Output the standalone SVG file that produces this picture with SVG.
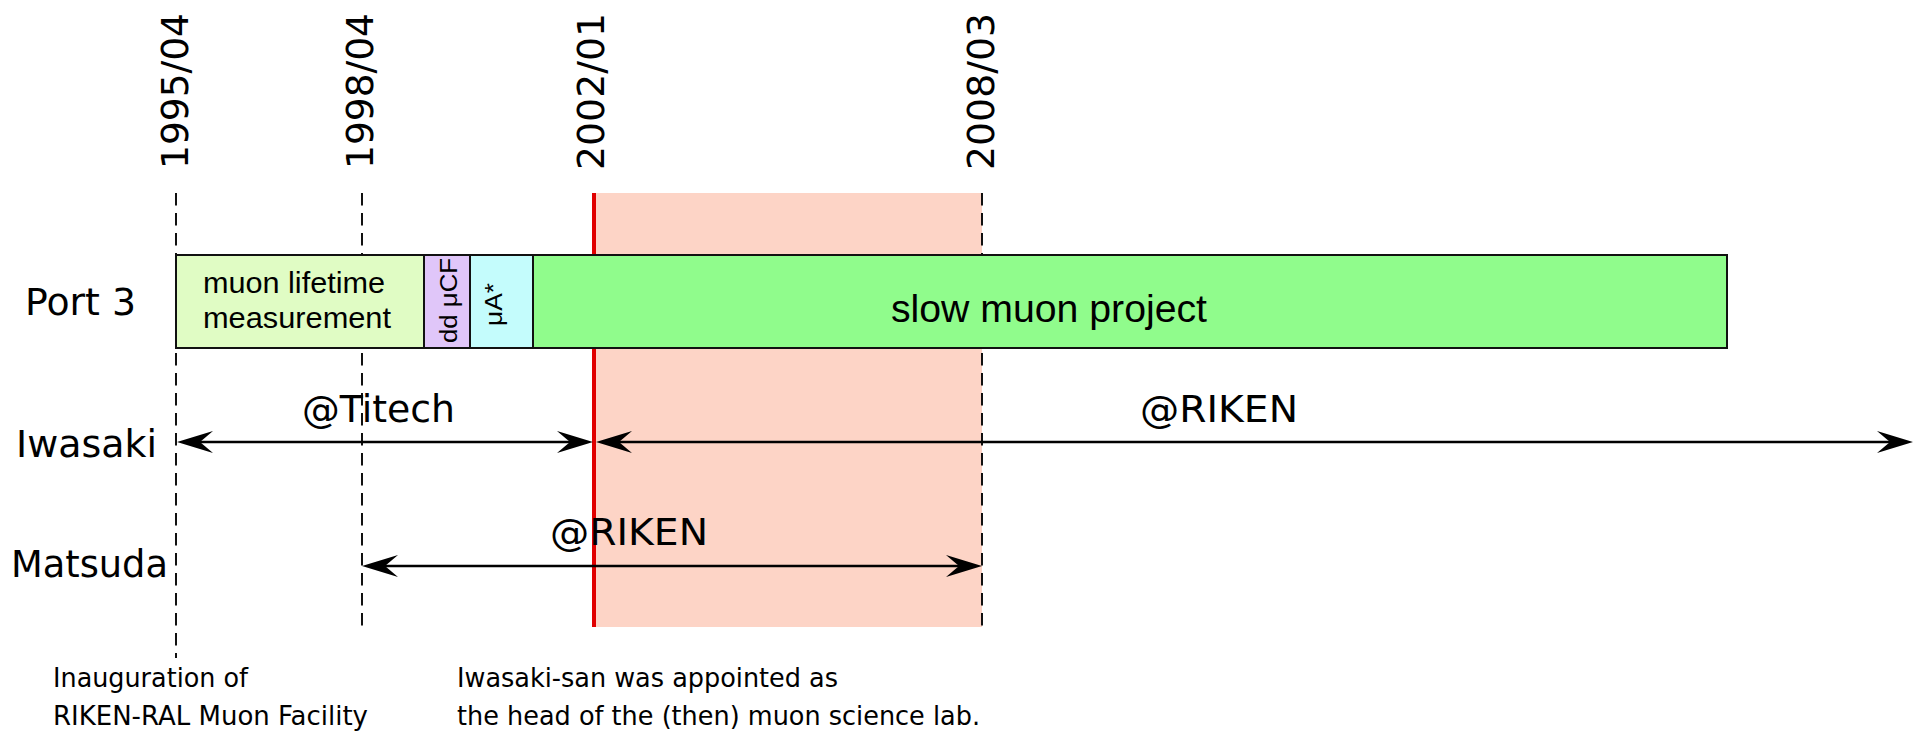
<svg xmlns="http://www.w3.org/2000/svg" width="1921" height="732" viewBox="0 0 1921 732">
  <style>
    .lbl { font-family: "DejaVu Sans", Verdana, sans-serif; fill: #000; }
    .big { font-size: 37px; }
    .date { font-size: 38px; }
    .note { font-size: 27px; }
    .box { stroke: #111; stroke-width: 2; }
    .boxtxt { font-family: "Liberation Sans", Arial, sans-serif; fill: #000; }
    .dash { stroke: #111; stroke-width: 2; stroke-dasharray: 12.5 7.5; fill: none; }
    .arrow { stroke: #000; stroke-width: 2.5; fill: none; marker-start: url(#head); marker-end: url(#head); }
  </style>
  <defs>
    <marker id="head" viewBox="0 0 36 22" refX="13" refY="11" markerWidth="36" markerHeight="22" markerUnits="userSpaceOnUse" orient="auto-start-reverse">
      <path d="M0,0 L36,11 L0,22 L13,11 Z" fill="#000"/>
    </marker>
  </defs>
  <rect width="1921" height="732" fill="#fff"/>

  <!-- highlighted period -->
  <g id="period">
    <rect x="594" y="193" width="388" height="434" fill="#fdd4c6"/>
    <line x1="594" y1="193" x2="594" y2="627" stroke="#e00000" stroke-width="4"/>
  </g>

  <!-- date guide lines -->
  <g id="guides">
    <line class="dash" x1="176" y1="193" x2="176" y2="658"/>
    <line class="dash" x1="362" y1="193" x2="362" y2="627"/>
    <line class="dash" x1="982" y1="193" x2="982" y2="627"/>
  </g>

  <g id="date-1995">
    <text class="lbl date" transform="translate(188,169) rotate(-90)" textLength="156" lengthAdjust="spacingAndGlyphs">1995/04</text>
  </g>
  <g id="date-1998">
    <text class="lbl date" transform="translate(373,169) rotate(-90)" textLength="156" lengthAdjust="spacingAndGlyphs">1998/04</text>
  </g>
  <g id="date-2002">
    <text class="lbl date" transform="translate(604,170) rotate(-90)" textLength="157" lengthAdjust="spacingAndGlyphs">2002/01</text>
  </g>
  <g id="date-2008">
    <text class="lbl date" transform="translate(994,170) rotate(-90)" textLength="157" lengthAdjust="spacingAndGlyphs">2008/03</text>
  </g>

  <!-- row labels -->
  <g id="row-port3">
    <text class="lbl big" x="25" y="315" textLength="111" lengthAdjust="spacingAndGlyphs">Port 3</text>
  </g>
  <g id="row-iwasaki">
    <text class="lbl big" x="16" y="457" textLength="141" lengthAdjust="spacingAndGlyphs">Iwasaki</text>
  </g>
  <g id="row-matsuda">
    <text class="lbl big" x="11" y="577" textLength="157" lengthAdjust="spacingAndGlyphs">Matsuda</text>
  </g>

  <!-- Port 3 projects -->
  <g id="box-lifetime">
    <rect class="box" x="176" y="255" width="248" height="93" fill="#e0fcc4"/>
    <text class="boxtxt" font-size="29" x="203" y="293" textLength="182" lengthAdjust="spacingAndGlyphs">muon lifetime</text>
    <text class="boxtxt" font-size="29" x="203" y="328" textLength="188" lengthAdjust="spacingAndGlyphs">measurement</text>
  </g>
  <g id="box-ddmucf">
    <rect class="box" x="424" y="255" width="46" height="93" fill="#e0c6f9"/>
    <text class="boxtxt" font-size="23" transform="translate(457,343) rotate(-90)" textLength="85" lengthAdjust="spacingAndGlyphs">dd μCF</text>
  </g>
  <g id="box-muA">
    <rect class="box" x="470" y="255" width="63" height="93" fill="#c4fcfc"/>
    <text class="boxtxt" font-size="24" transform="translate(502,326) rotate(-90)" textLength="43" lengthAdjust="spacingAndGlyphs">μA*</text>
  </g>
  <g id="box-slowmuon">
    <rect class="box" x="533" y="255" width="1194" height="93" fill="#90fc8c"/>
    <text class="boxtxt" font-size="38" x="891" y="322" textLength="316" lengthAdjust="spacingAndGlyphs">slow muon project</text>
  </g>

  <!-- connectors -->
  <g id="connectors">
    <line class="arrow" x1="200" y1="442" x2="570" y2="442"/>
    <line class="arrow" x1="619" y1="442" x2="1890" y2="442"/>
    <line class="arrow" x1="385" y1="566" x2="959" y2="566"/>
  </g>

  <g id="label-titech">
    <text class="lbl big" x="302" y="422" textLength="153" lengthAdjust="spacingAndGlyphs">@Titech</text>
  </g>
  <g id="label-riken-iwasaki">
    <text class="lbl big" x="1140" y="422" textLength="158" lengthAdjust="spacingAndGlyphs">@RIKEN</text>
  </g>
  <g id="label-riken-matsuda">
    <text class="lbl big" x="550" y="545" textLength="158" lengthAdjust="spacingAndGlyphs">@RIKEN</text>
  </g>

  <!-- notes -->
  <g id="note-inauguration">
    <text class="lbl note" x="53" y="687" textLength="195" lengthAdjust="spacingAndGlyphs">Inauguration of</text>
    <text class="lbl note" x="53" y="725" textLength="315" lengthAdjust="spacingAndGlyphs">RIKEN-RAL Muon Facility</text>
  </g>
  <g id="note-appointed">
    <text class="lbl note" x="457" y="687" textLength="381" lengthAdjust="spacingAndGlyphs">Iwasaki-san was appointed as</text>
    <text class="lbl note" x="457" y="725" textLength="523" lengthAdjust="spacingAndGlyphs">the head of the (then) muon science lab.</text>
  </g>
</svg>
